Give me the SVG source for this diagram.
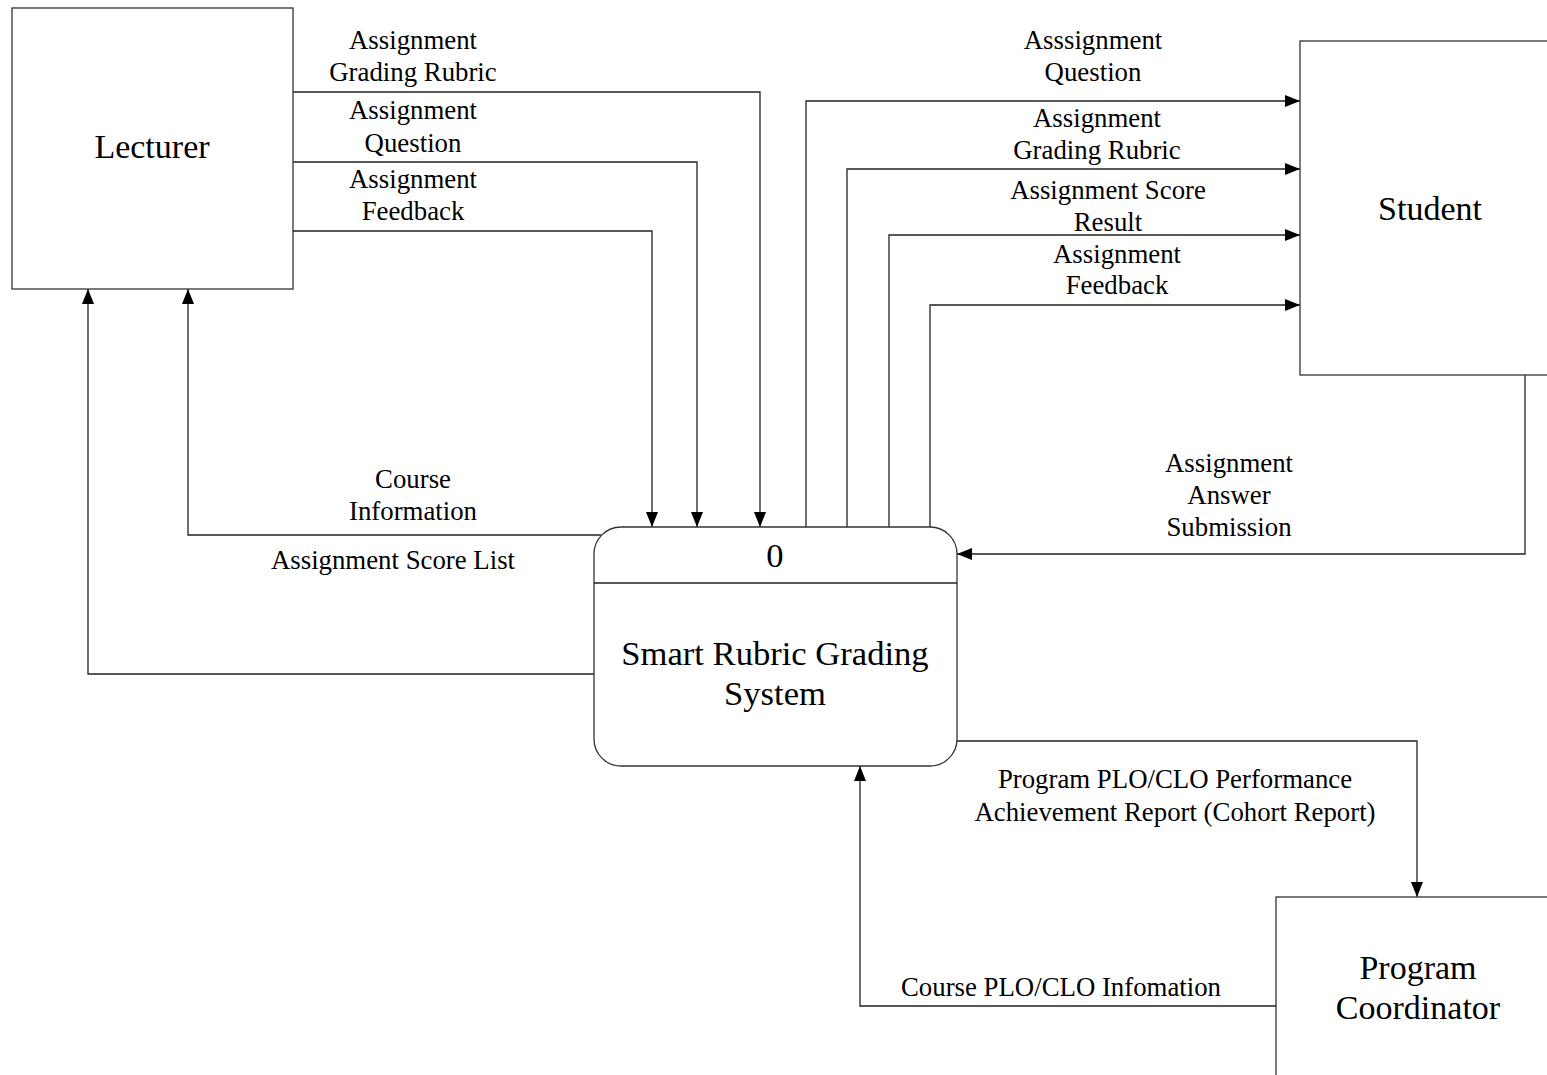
<svg xmlns="http://www.w3.org/2000/svg" width="1547" height="1075" viewBox="0 0 1547 1075">
<style>
.box{fill:#fff;stroke:#333;stroke-width:1.3}
.ln{fill:none;stroke:#222;stroke-width:1.3}
.lbl{font-family:"Liberation Serif","Times New Roman",serif;font-size:26.8px;fill:#000;text-anchor:middle}
.big{font-family:"Liberation Serif","Times New Roman",serif;font-size:34px;fill:#000;text-anchor:middle}
.proc{font-size:34.6px}
</style>
<defs>
<marker id="arr" markerUnits="userSpaceOnUse" markerWidth="16" markerHeight="13" refX="15" refY="6" orient="auto">
<path d="M0,0 L15,6 L0,12 z" fill="#000"/>
</marker>
</defs>
<rect width="1547" height="1075" fill="#fff"/>
<g id="connectors">
<polyline class="ln" points="293,92 760,92 760,527" marker-end="url(#arr)"/>
<polyline class="ln" points="293,162 697,162 697,527" marker-end="url(#arr)"/>
<polyline class="ln" points="293,231 652,231 652,527" marker-end="url(#arr)"/>
<polyline class="ln" points="806,527 806,101 1300,101" marker-end="url(#arr)"/>
<polyline class="ln" points="847,527 847,169 1300,169" marker-end="url(#arr)"/>
<polyline class="ln" points="889,527 889,235 1300,235" marker-end="url(#arr)"/>
<polyline class="ln" points="930,527 930,305 1300,305" marker-end="url(#arr)"/>
<polyline class="ln" points="1525,375 1525,554 957,554" marker-end="url(#arr)"/>
<polyline class="ln" points="601,535 188,535 188,289" marker-end="url(#arr)"/>
<polyline class="ln" points="594,674 88,674 88,289" marker-end="url(#arr)"/>
<polyline class="ln" points="957,741 1417,741 1417,897" marker-end="url(#arr)"/>
<polyline class="ln" points="1276,1006 860,1006 860,766" marker-end="url(#arr)"/>
<text class="lbl" x="413" y="49">Assignment</text>
<text class="lbl" x="413" y="81">Grading Rubric</text>
<text class="lbl" x="413" y="119">Assignment</text>
<text class="lbl" x="413" y="152">Question</text>
<text class="lbl" x="413" y="188">Assignment</text>
<text class="lbl" x="413" y="220">Feedback</text>
<text class="lbl" x="1093" y="49">Asssignment</text>
<text class="lbl" x="1093" y="81">Question</text>
<text class="lbl" x="1097" y="127">Assignment</text>
<text class="lbl" x="1097" y="159">Grading Rubric</text>
<text class="lbl" x="1108" y="199">Assignment Score</text>
<text class="lbl" x="1108" y="231">Result</text>
<text class="lbl" x="1117" y="263">Assignment</text>
<text class="lbl" x="1117" y="294">Feedback</text>
<text class="lbl" x="1229" y="472">Assignment</text>
<text class="lbl" x="1229" y="504">Answer</text>
<text class="lbl" x="1229" y="536">Submission</text>
<text class="lbl" x="413" y="488">Course</text>
<text class="lbl" x="413" y="520">Information</text>
<text class="lbl" x="393" y="569">Assignment Score List</text>
<text class="lbl" x="1175" y="788">Program PLO/CLO Performance</text>
<text class="lbl" x="1175" y="821">Achievement Report (Cohort Report)</text>
<text class="lbl" x="1061" y="996">Course PLO/CLO Infomation</text>
</g>
<g id="lecturer">
<rect class="box" x="12" y="8" width="281" height="281"/>
<text class="big" x="152" y="158">Lecturer</text>
</g>
<g id="student">
<rect class="box" x="1300" y="41" width="260" height="334"/>
<text class="big" x="1430" y="220">Student</text>
</g>
<g id="program-coordinator">
<rect class="box" x="1276" y="897" width="284" height="200"/>
<text class="big" x="1418" y="979">Program</text>
<text class="big" x="1418" y="1019">Coordinator</text>
</g>
<g id="process-0">
<rect class="box" x="594" y="527" width="363" height="239" rx="27" ry="27"/>
<line class="ln" x1="594" y1="583" x2="957" y2="583"/>
<text class="big proc" x="775" y="567">0</text>
<text class="big proc" x="775" y="665">Smart Rubric Grading</text>
<text class="big proc" x="775" y="705">System</text>
</g>
</svg>
